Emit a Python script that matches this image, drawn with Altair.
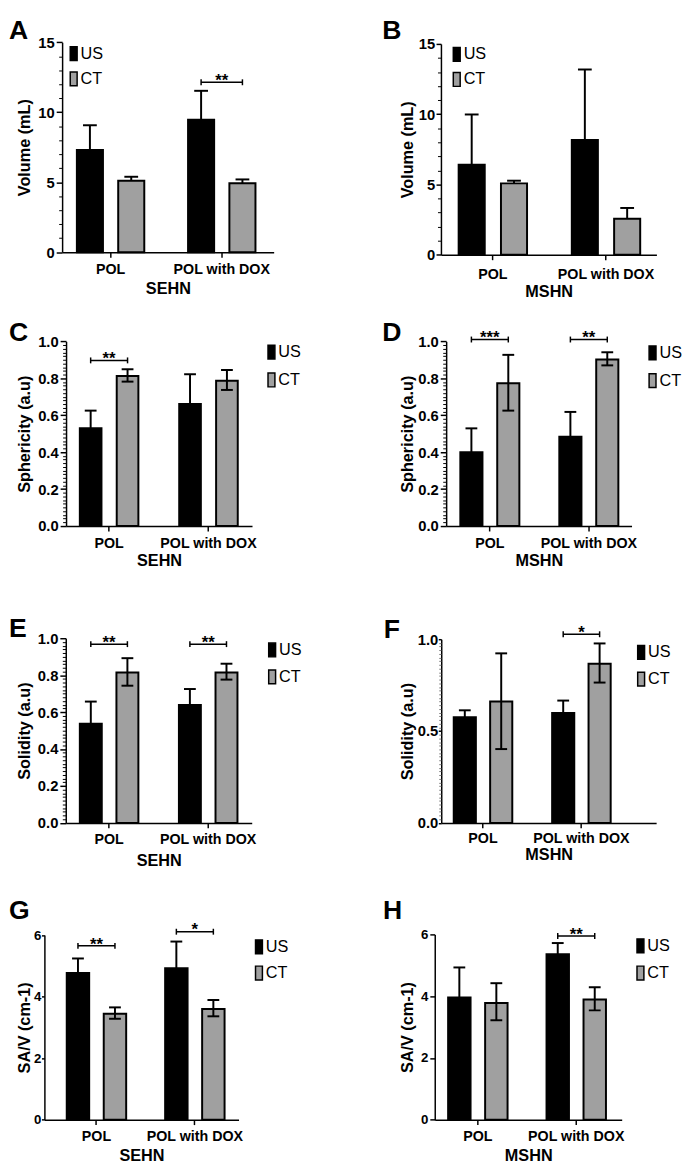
import altair as alt
import pandas as pd

# ---------------- data ----------------
groups = ["POL", "POL with DOX"]
series = ["US", "CT"]
letters = ["A", "B", "C", "D", "E", "F", "G", "H"]
y_titles = ["Volume (mL)", "Volume (mL)", "Sphericity (a.u)", "Sphericity (a.u)",
            "Solidity (a.u)", "Solidity (a.u)", "SA/V (cm-1)", "SA/V (cm-1)"]
x_titles = ["SEHN", "MSHN", "SEHN", "MSHN", "SEHN", "MSHN", "SEHN", "MSHN"]

# bar order in every panel: POL-US, POL-CT, POL with DOX-US, POL with DOX-CT
mean_A = [7.31, 5.11, 9.47, 4.92]
high_A = [9.07, 5.39, 11.53, 5.20]
low_A = [7.31, 5.11, 9.47, 4.92]
mean_B = [6.41, 5.08, 8.16, 2.56]
high_B = [9.98, 5.27, 13.18, 3.33]
low_B = [6.41, 5.08, 8.16, 2.56]
mean_C = [0.529, 0.813, 0.661, 0.787]
high_C = [0.625, 0.849, 0.822, 0.845]
low_C = [0.433, 0.782, 0.500, 0.737]
mean_D = [0.400, 0.773, 0.483, 0.902]
high_D = [0.529, 0.927, 0.618, 0.941]
low_D = [0.271, 0.625, 0.348, 0.870]
mean_E = [0.537, 0.814, 0.639, 0.814]
high_E = [0.657, 0.892, 0.725, 0.862]
low_E = [0.417, 0.743, 0.553, 0.776]
mean_F = [0.575, 0.661, 0.598, 0.866]
high_F = [0.613, 0.923, 0.666, 0.977]
low_F = [0.537, 0.402, 0.530, 0.764]
mean_G = [4.77, 3.44, 4.92, 3.60]
high_G = [5.24, 3.65, 5.79, 3.89]
low_G = [4.30, 3.28, 4.05, 3.36]
mean_H = [3.96, 3.78, 5.36, 3.89]
high_H = [4.93, 4.42, 5.72, 4.29]
low_H = [2.99, 3.22, 5.00, 3.54]

sig_group_A, sig_y_A, sig_label_A = ["POL with DOX"], [12.14], ["**"]
sig_group_B, sig_y_B, sig_label_B = [], [], []
sig_group_C, sig_y_C, sig_label_C = ["POL"], [0.897], ["**"]
sig_group_D, sig_y_D, sig_label_D = ["POL", "POL with DOX"], [1.01, 1.01], ["***", "**"]
sig_group_E, sig_y_E, sig_label_E = ["POL", "POL with DOX"], [0.968, 0.968], ["**", "**"]
sig_group_F, sig_y_F, sig_label_F = ["POL with DOX"], [1.027], ["*"]
sig_group_G, sig_y_G, sig_label_G = ["POL", "POL with DOX"], [5.65, 6.11], ["**", "*"]
sig_group_H, sig_y_H, sig_label_H = ["POL with DOX"], [5.95], ["**"]

y_max = [15, 15, 1.0, 1.0, 1.0, 1.0, 6, 6]
y_major = [5, 5, 0.2, 0.2, 0.2, 0.5, 2, 2]
y_minor = [1, 1, 0.02, 0.02, 0.02, 0.02, None, None]
y_fmt = ["d", "d", ".1f", ".1f", ".1f", ".1f", "d", "d"]

means = [mean_A, mean_B, mean_C, mean_D, mean_E, mean_F, mean_G, mean_H]
highs = [high_A, high_B, high_C, high_D, high_E, high_F, high_G, high_H]
lows = [low_A, low_B, low_C, low_D, low_E, low_F, low_G, low_H]
sigs = [(sig_group_A, sig_y_A, sig_label_A), (sig_group_B, sig_y_B, sig_label_B),
        (sig_group_C, sig_y_C, sig_label_C), (sig_group_D, sig_y_D, sig_label_D),
        (sig_group_E, sig_y_E, sig_label_E), (sig_group_F, sig_y_F, sig_label_F),
        (sig_group_G, sig_y_G, sig_label_G), (sig_group_H, sig_y_H, sig_label_H)]

# ---------------- layout / style (page pixels) ----------------
FONT = "Liberation Sans"
CW, CH = 337, 290
SW = 2.0
SYM_LEFT = 5.25  # legend symbol visible left edge inside the legend group
YT_FS = 16.5     # y title font size
XT_FS = 16.5     # x title font size
XL_FS = 14.5     # category label font size
LETTER_FS = 27
layouts = [
    dict(col=0, row=0, x0=63, x1=278, g1=77, g2=190, gw=70.5, bw=28.5, y0=246.7, yt=33.3,
         ytick=6, ylp=2, yfs=15, xlp=5.3, xtp=5.2, leg=(70, 36.7), rp=4.6, let=(1.7, 5), cap=14),
    dict(col=1, row=0, x0=448, x1=667, g1=465, g2=580, gw=71.5, bw=28.5, y0=249.3, yt=35,
         ytick=5, ylp=1.3, yfs=15, xlp=7.7, xtp=3.5, leg=(459.3, 37.3), rp=4.6, let=(388.3, 3.3), cap=14),
    dict(col=0, row=1, x0=67, x1=256, g1=80, g2=181, gw=61.5, bw=24, y0=525, yt=337.3,
         ytick=6, ylp=2, yfs=15, xlp=5.4, xtp=3.5, leg=(271, 340), rp=7.3, let=(2, 318), cap=12),
    dict(col=1, row=1, x0=453.3, x1=641.7, g1=466.7, g2=567.3, gw=62, bw=24.5, y0=525, yt=337.3,
         ytick=6, ylp=2, yfs=15, xlp=5.4, xtp=3.5, leg=(658.3, 340.7), rp=7.3, let=(388.3, 317.3), cap=12),
    dict(col=0, row=2, x0=66.7, x1=255.7, g1=80, g2=180.7, gw=61.5, bw=24.3, y0=826.7, yt=639,
         ytick=6, ylp=2, yfs=15, xlp=5.3, xtp=6.2, leg=(271.7, 642.7), rp=6.3, let=(2, 618.3), cap=12),
    dict(col=1, row=2, x0=448.3, x1=666.7, g1=460, g2=560, gw=61.5, bw=24.5, y0=826.7, yt=640,
         ytick=3, ylp=0.5, yfs=15, xlp=3.7, xtp=1.8, leg=(646.7, 645), rp=6.3, let=(390, 619.3), cap=12),
    dict(col=0, row=3, x0=45, x1=242.3, g1=66.7, g2=166.7, gw=62.4, bw=24.8, y0=1128.3, yt=940.7,
         ytick=3, ylp=0.5, yfs=13.5, xlp=5.4, xtp=4.5, leg=(258.3, 944.3), rp=5.7, let=(2, 905), cap=12),
    dict(col=1, row=3, x0=441.7, x1=631.7, g1=454.3, g2=554.3, gw=62.4, bw=24.8, y0=1128.3, yt=940,
         ytick=5, ylp=2, yfs=13.5, xlp=5.4, xtp=4.5, leg=(646, 943.3), rp=6.7, let=(389, 905), cap=12),
]
TITLE_RIGHT = [33.3, 422.5]
CHARW = {".": 0.278}


def label_width(text, fs):
    return sum(CHARW.get(c, 0.556) for c in text) * fs


def build(i):
    L = layouts[i]
    ox = 8 + L["col"] * CW
    oy = 8 + L["row"] * CH
    x0, x1 = L["x0"] - ox, L["x1"] - ox
    g1, g2 = L["g1"] - ox + SW / 2, L["g2"] - ox + SW / 2
    gw, bw = L["gw"] - SW, L["bw"] - SW
    step = g2 - g1
    pin = 1 - gw / step
    extra = (x1 - x0) - step * (2 - pin)
    pout = extra / (2 * step)
    al = (g1 - x0) / extra
    qi = (gw - 2 * bw) / (gw - bw)
    y0, yt = L["y0"] - oy, L["yt"] - oy

    maj, mnr, fmt, ymx = y_major[i], y_minor[i], y_fmt[i], y_max[i]
    major_vals = [round(k * maj, 4) for k in range(int(round(ymx / maj)) + 1)]
    minor_vals = []
    if mnr:
        minor_vals = [round(k * mnr, 4) for k in range(int(round(ymx / mnr)) + 1)]
        minor_vals = [v for v in minor_vals if min(abs(v - m) for m in major_vals) > 1e-6]
    major_labels = [format(v, fmt) if fmt != "d" else str(int(round(v))) for v in major_vals]
    lw = max(label_width(s, L["yfs"]) for s in major_labels)
    tp = max((L["x0"] - L["ytick"] - L["ylp"] - lw) - TITLE_RIGHT[L["col"]], 0)

    yaxis = alt.Axis(
        title=y_titles[i], values=major_vals, format=fmt, orient="left",
        tickSize=L["ytick"], tickWidth=1.5, tickColor="black",
        offset=-x0, grid=False, labelOverlap=False,
        domainColor="black", domainWidth=1.5,
        labelFont=FONT, labelFontSize=L["yfs"], labelFontWeight="bold", labelColor="black",
        labelPadding=L["ylp"],
        titleFont=FONT, titleFontSize=YT_FS, titleFontWeight="bold", titleColor="black",
        titlePadding=tp,
    )
    minor_axis = alt.Axis(
        title=None, values=minor_vals if minor_vals else [0], orient="left", labels=False, domain=False,
        tickSize=3.5 if i != 5 else 2.5, tickWidth=1.0 if i != 5 else 0.8,
        tickColor="black" if i != 5 else "#555555",
        offset=-x0, grid=False,
    )
    xaxis = alt.Axis(
        title=x_titles[i], offset=y0 - CH, labelAngle=0, grid=False,
        tickSize=5, tickWidth=1.5, tickColor="black",
        domainColor="black", domainWidth=1.5,
        labelFont=FONT, labelFontSize=XL_FS, labelFontWeight="bold", labelColor="black",
        labelPadding=L["xlp"], labelOverlap=False,
        titleFont=FONT, titleFontSize=XT_FS, titleFontWeight="bold", titleColor="black",
        titlePadding=L["xtp"],
    )
    xs = alt.Scale(domain=groups, range=[x0, x1], paddingInner=pin, paddingOuter=pout, align=al)
    xos = alt.Scale(domain=series, paddingInner=qi, paddingOuter=0)
    ys = alt.Scale(domain=[0, ymx], range=[y0, yt], nice=False, zero=True)

    def X():
        return alt.X("group:N", scale=xs, axis=xaxis, sort=groups)

    def XO():
        return alt.XOffset("series:N", scale=xos, sort=series)

    def Y(f, axis=None):
        return alt.Y(f"{f}:Q", scale=ys, axis=axis)

    bar_df = pd.DataFrame({
        "group": [groups[0], groups[0], groups[1], groups[1]],
        "series": series * 2,
        "mean": means[i], "high": highs[i], "low": lows[i],
    })

    lx = L["leg"][0] - SYM_LEFT - ox
    ly = L["leg"][1] - oy
    legend = alt.Legend(
        title=None, orient="none", legendX=lx, legendY=ly, padding=0,
        symbolType="M-0.25,-1H0.75V1H-0.25Z", symbolSize=196,
        symbolStrokeColor="black", symbolStrokeWidth=1.5, symbolOpacity=1,
        labelFont=FONT, labelFontSize=16.5, labelColor="black", labelOffset=0.5,
        rowPadding=L["rp"],
    )
    color = alt.Color("series:N", scale=alt.Scale(domain=series, range=["#000000", "#a0a0a0"]),
                      legend=legend, sort=series)

    base = alt.Chart(bar_df)
    layers = [
        base.mark_bar(stroke="black", strokeWidth=SW).encode(
            x=X(), xOffset=XO(), y=Y("mean", yaxis), color=color),
        base.mark_rule(color="black", strokeWidth=2).encode(
            x=X(), xOffset=XO(), y=Y("low", minor_axis if minor_vals else None), y2="high:Q"),
        base.mark_tick(orient="horizontal", size=L["cap"], thickness=2, color="black", opacity=1).encode(
            x=X(), xOffset=XO(), y=Y("high")),
    ]
    if any(h != m for h, m in zip(lows[i], means[i])):
        layers.append(base.mark_tick(orient="horizontal", size=L["cap"], thickness=2, color="black",
                                     opacity=1).encode(x=X(), xOffset=XO(), y=Y("low")))

    sg, sy, sl = sigs[i]
    if sg:
        line_df = pd.DataFrame({
            "group": [g for g in sg for _ in series],
            "series": [s for _ in sg for s in series],
            "y": [v for v in sy for _ in series],
        })
        text_df = pd.DataFrame({"group": sg, "y": sy, "label": sl})
        lb = alt.Chart(line_df)
        layers += [
            lb.mark_line(color="black", strokeWidth=1.5).encode(x=X(), xOffset=XO(), y=Y("y"),
                                                                 detail="group:N"),
            lb.mark_tick(orient="vertical", size=6, thickness=1.5, color="black", opacity=1).encode(
                x=X(), xOffset=XO(), y=Y("y")),
            alt.Chart(text_df).mark_text(font=FONT, fontSize=17, fontWeight="bold", baseline="alphabetic",
                                         dy=3.8, color="black").encode(x=X(), y=Y("y"), text="label:N"),
        ]

    cap_h = 0.716 * LETTER_FS
    let_x = max(L["let"][0] - ox, 1)
    let_y = max(L["let"][1] - oy + cap_h, round(0.8 * LETTER_FS) + 0.5)
    layers.append(
        alt.Chart(pd.DataFrame({"letter": [letters[i]]})).mark_text(
            font=FONT, fontSize=LETTER_FS, fontWeight="bold", align="left", baseline="alphabetic",
            color="black"
        ).encode(x=alt.value(let_x), y=alt.value(let_y), text="letter:N")
    )
    return alt.layer(*layers).resolve_axis(y="independent").properties(width=CW, height=CH)


panels = [build(i) for i in range(8)]

chart = (
    alt.concat(*panels, columns=2, spacing=0, bounds="flush")
    .resolve_scale(x="independent", y="independent", xOffset="independent", color="independent")
    .resolve_legend(color="independent")
    .properties(padding=0)
    .configure(font=FONT)
    .configure_view(stroke=None)
)

chart.save("out.html", embed_options={"renderer": "svg", "actions": False})
